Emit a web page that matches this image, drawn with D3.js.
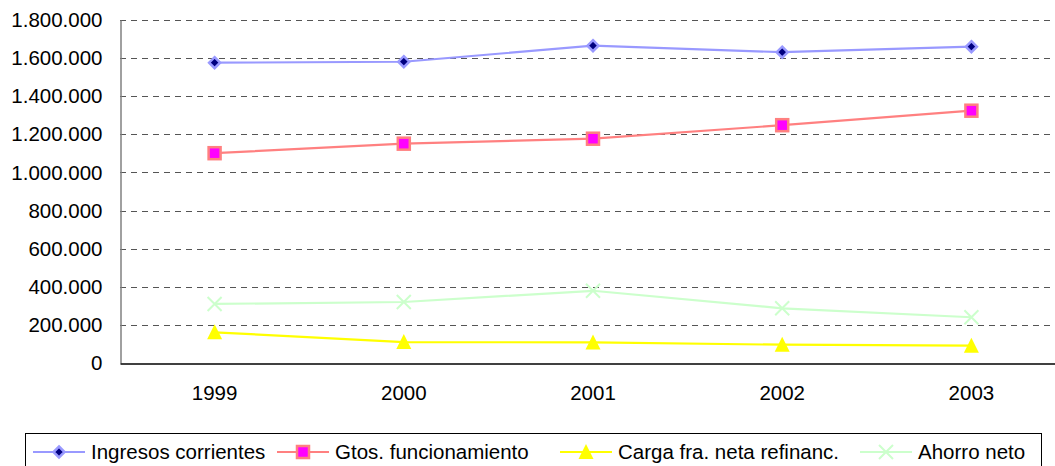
<!DOCTYPE html>
<meta charset="utf-8">
<html>
  <head>
    <script src="https://d3js.org/d3.v7.min.js"></script>
    <style>
      body { margin: 0; background: #fff; }
      text { font-family: "Liberation Sans", Arial, sans-serif; fill: #000; }
    </style>
  </head>
  <body>
  <script>

// data
const years = ['1999', '2000', '2001', '2002', '2003'];
const ingresos = [1576000, 1581000, 1665000, 1631000, 1660000];
const gastos = [1101000, 1151000, 1177000, 1248000, 1324000];
const carga = [161000, 110000, 108000, 96000, 91000];
const ahorro = [310000, 320000, 379000, 287000, 240000];
const y_ticks = [0, 200000, 400000, 600000, 800000, 1000000, 1200000, 1400000, 1600000, 1800000];

const series = [
  {name: 'Ingresos corrientes', values: ingresos, line: '#9999ff', marker: 'diamond', fill: '#000080', stroke: '#9999ff'},
  {name: 'Gtos. funcionamiento', values: gastos, line: '#ff8080', marker: 'square', fill: '#ff00ff', stroke: '#ff8080'},
  {name: 'Carga fra. neta refinanc.', values: carga, line: '#ffff00', marker: 'triangle', fill: '#ffff00', stroke: 'none'},
  {name: 'Ahorro neto', values: ahorro, line: '#ccffcc', marker: 'x', fill: 'none', stroke: '#ccffcc'}
];

const width = 1055, height = 466,
      font_size = '20.5px',
      legend_x = [33, 277, 560, 860];   // excel spreads legend entries out

const es = d3.formatLocale({decimal: ',', thousands: '.', grouping: [3], currency: ['', '']}),
      fmt = es.format(',d');

const svg = d3.select('body').append('svg')
  .attr('width', width)
  .attr('height', height);

const x = d3.scaleBand().domain(years).range([120, 1066]).padding(0),
      y = d3.scaleLinear().domain([0, 1800000]).range([363, 20]),
      cx = d => x(d) + x.bandwidth() / 2;

// gridlines
svg.append('g')
  .selectAll('line')
  .data(y_ticks.filter(t => t > 0))
  .join('line')
    .attr('x1', 120).attr('x2', 1066)
    .attr('y1', d => Math.round(y(d)) + 0.5).attr('y2', d => Math.round(y(d)) + 0.5)
    .attr('stroke', '#555')
    .attr('stroke-dasharray', '6,5');

// y axis
const y_axis = svg.append('g')
  .attr('transform', 'translate(120.5,0)')
  .call(d3.axisLeft(y).tickValues(y_ticks).tickFormat(fmt).tickSize(0).tickPadding(18));
y_axis.select('.domain').attr('stroke', '#808080').attr('stroke-width', 1.5);
y_axis.selectAll('text').style('font-size', font_size).attr('font-family', null);

// x axis
const x_axis = svg.append('g')
  .attr('transform', 'translate(0,' + (Math.round(y(0)) + 0.5) + ')')
  .call(d3.axisBottom(x).tickSize(0).tickPadding(22));
x_axis.select('.domain').attr('stroke', '#000').attr('stroke-width', 1.5);
x_axis.selectAll('text').style('font-size', font_size).attr('font-family', null);

const marker = (sel, s) => {
  if (s.marker === 'diamond') {
    sel.append('path').attr('d', 'M0,-5.5L5.5,0L0,5.5L-5.5,0Z')
      .attr('fill', s.fill).attr('stroke', s.stroke).attr('stroke-width', 2.5);
  } else if (s.marker === 'square') {
    sel.append('rect').attr('x', -6).attr('y', -6).attr('width', 12).attr('height', 12)
      .attr('fill', s.fill).attr('stroke', s.stroke).attr('stroke-width', 2.5);
  } else if (s.marker === 'triangle') {
    sel.append('path').attr('d', 'M0,-8L7.5,7L-7.5,7Z').attr('fill', s.fill);
  } else {
    sel.append('path').attr('d', 'M-7,-7L7,7M-7,7L7,-7')
      .attr('fill', 'none').attr('stroke', s.stroke).attr('stroke-width', 2);
  }
};

const line = d3.line().x((d, i) => cx(years[i])).y(d => y(d));

// draw bottom series first
series.slice().reverse().forEach(s => {
  const g = svg.append('g');
  g.append('path')
    .attr('d', line(s.values))
    .attr('fill', 'none')
    .attr('stroke', s.line)
    .attr('stroke-width', 2.2);
  g.selectAll('g')
    .data(s.values)
    .join('g')
      .attr('transform', (d, i) => 'translate(' + cx(years[i]) + ',' + y(d) + ')')
      .each(function() { marker(d3.select(this), s); });
});

// legend
const legend = svg.append('g');
legend.append('rect')
  .attr('x', 25.5).attr('y', 433.5)
  .attr('width', 1016).attr('height', 50)
  .attr('fill', '#fff').attr('stroke', '#000');

series.forEach((s, i) => {
  const lx = legend_x[i],
        item = legend.append('g');
  item.append('line')
    .attr('x1', lx).attr('x2', lx + 52)
    .attr('y1', 452).attr('y2', 452)
    .attr('stroke', s.line).attr('stroke-width', 2.2);
  marker(item.append('g').attr('transform', 'translate(' + (lx + 26) + ',452)'), s);
  item.append('text')
    .attr('x', lx + 58).attr('y', 452)
    .attr('dy', '0.35em')
    .style('font-size', font_size)
    .text(s.name);
});

  </script>
  </body>
</html>
